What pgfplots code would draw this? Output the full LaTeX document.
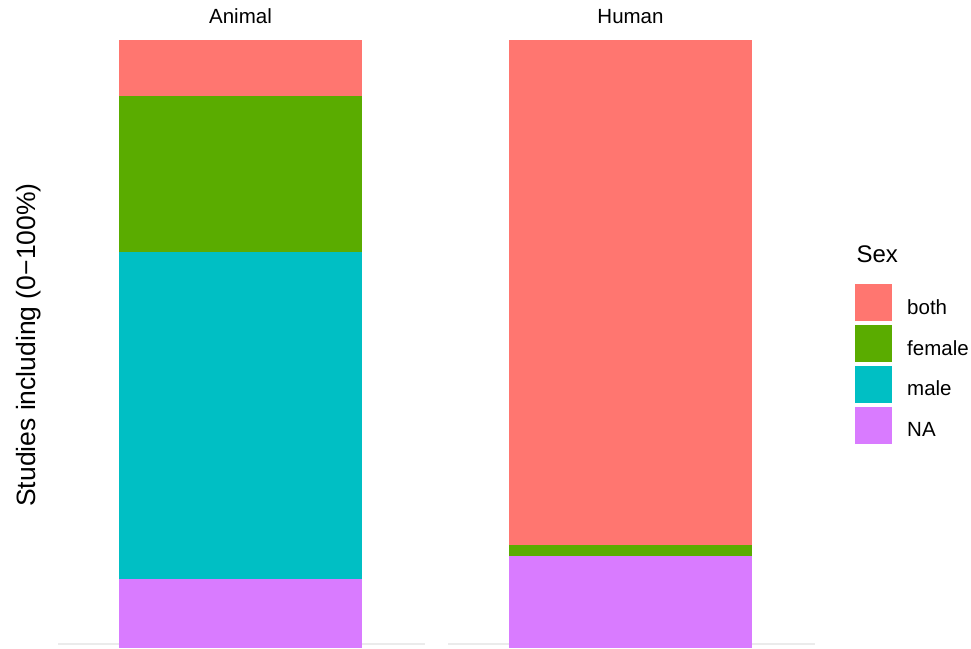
\documentclass[border=0pt]{standalone}
\usepackage{pgfplots}
\pgfplotsset{compat=1.18}
\usepackage{fontspec}
\setmainfont{Liberation Sans}
\definecolor{cboth}{HTML}{FF7670}
\definecolor{cfemale}{HTML}{5AAC00}
\definecolor{cmale}{HTML}{00BFC4}
\definecolor{cna}{HTML}{D97BFF}
\definecolor{cgrid}{HTML}{EBEBEB}
\begin{document}
\begin{tikzpicture}[x=1pt,y=1pt]
\useasboundingbox (0,0) rectangle (971,648);
\pgfplotsset{
  panel/.style={scale only axis, width=367pt, height=608pt,
    xmin=0, xmax=367, ymin=0.654, ymax=100,
    ybar stacked, bar width=243,
    xtick=\empty, ytick=\empty,
    axis line style={draw=none},
    extra y ticks={1.31}, extra y tick labels={},
    extra y tick style={grid=major, major grid style={color=cgrid, line width=2pt}, major tick length=0pt},
    anchor=south west, clip=true},
  sq/.style={legend image code/.code={\fill[##1] (0pt,-13.5pt) rectangle (37pt,23.5pt);}}
}
% Animal
\begin{axis}[panel, at={(58pt,0pt)}]
\addplot[fill=cna, draw=none] coordinates {(182.5,11.93)};
\addplot[fill=cmale, draw=none] coordinates {(182.5,53.43)};
\addplot[fill=cfemale, draw=none] coordinates {(182.5,25.49)};
\addplot[fill=cboth, draw=none] coordinates {(182.5,9.15)};
\end{axis}
% Human
\begin{axis}[panel, at={(448pt,0pt)},
  reverse legend, legend cell align=left,
  legend style={draw=none, fill=none, at={(1.109,0.5987)}, anchor=north west,
    font=\fontsize{20.5}{24}\selectfont, row sep=3.8pt, column sep=15pt,
    inner sep=0pt, nodes={inner sep=0pt}}]
\addplot[fill=cna, draw=none, sq] coordinates {(182.5,15.69)};
\addlegendentry{NA}
\addplot[fill=cmale, draw=none, sq] coordinates {(182.5,0)};
\addlegendentry{male}
\addplot[fill=cfemale, draw=none, sq] coordinates {(182.5,1.80)};
\addlegendentry{female}
\addplot[fill=cboth, draw=none, sq] coordinates {(182.5,82.51)};
\addlegendentry{both}
\end{axis}
\node[anchor=base, font=\fontsize{20.5}{24}\selectfont] at (240.5,624) {Animal};
\node[anchor=base, font=\fontsize{20.5}{24}\selectfont] at (630.5,624) {Human};
\node[rotate=90, anchor=base, font=\fontsize{26.5}{30}\selectfont] at (35,303) {Studies including (0−100\%)};
\node[anchor=base west, font=\fontsize{24}{28}\selectfont] at (853,385) {Sex};
\end{tikzpicture}
\end{document}
